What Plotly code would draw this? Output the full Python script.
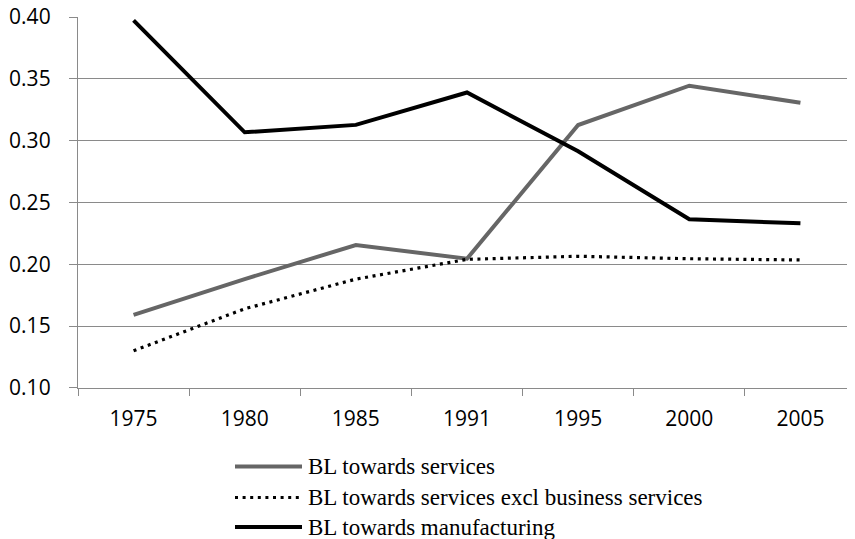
import plotly.graph_objects as go

years = ["1975", "1980", "1985", "1991", "1995", "2000", "2005"]
bl_services = [0.159, 0.188, 0.2156, 0.2045, 0.3127, 0.3445, 0.3307]
bl_services_excl = [0.130, 0.164, 0.188, 0.204, 0.2065, 0.2045, 0.2035]
bl_manufacturing = [0.3973, 0.3068, 0.3128, 0.339, 0.2915, 0.2364, 0.2332]
y_ticks = [0.10, 0.15, 0.20, 0.25, 0.30, 0.35, 0.40]
series_names = ["BL towards services",
                "BL towards services excl business services",
                "BL towards manufacturing"]

# the page body has an 8px margin; layout values below are in figure pixels
OFF = 8
W, H = 855, 539
ML, MT, MR = 70, 9, 7
MB = H - (388 - OFF)
GRAY = "#666666"
GRID = "#8a8a8a"

fig = go.Figure()
fig.add_trace(go.Scatter(x=years, y=bl_services, mode="lines", name=series_names[0],
                         line=dict(color=GRAY, width=4), showlegend=False))
fig.add_trace(go.Scatter(x=years, y=bl_services_excl, mode="lines", name=series_names[1],
                         line=dict(color="black", width=3.2, dash="3px,4.6px"), showlegend=False))
fig.add_trace(go.Scatter(x=years, y=bl_manufacturing, mode="lines", name=series_names[2],
                         line=dict(color="black", width=4), showlegend=False))

fig.update_layout(
    width=W, height=H,
    margin=dict(l=ML, r=MR, t=MT, b=MB, pad=0, autoexpand=False),
    paper_bgcolor="white", plot_bgcolor="white",
    font=dict(family="Open Sans", size=21, color="black"),
)
fig.update_xaxes(type="category", range=[-0.5, 6.5], tickson="boundaries",
                 ticks="outside", ticklen=7, tickcolor=GRID, tickwidth=1.3,
                 showline=True, linecolor=GRID, linewidth=1.3, showgrid=False,
                 automargin=False, ticklabeloverflow="allow",
                 ticklabelstandoff=12, tickfont=dict(family="Open Sans", size=21))
fig.update_yaxes(range=[0.0999, 0.4001], tickvals=y_ticks,
                 ticktext=[f"{v:.2f}" for v in y_ticks],
                 ticks="outside", ticklen=8, tickcolor=GRID, tickwidth=1.3,
                 showline=True, linecolor=GRID, linewidth=1.3,
                 showgrid=True, gridcolor=GRID, gridwidth=1.3, zeroline=False,
                 automargin=False, ticklabeloverflow="allow",
                 ticklabelstandoff=14, tickfont=dict(family="Open Sans", size=21))

# manual legend (page pixel positions converted to paper coordinates)
pw = W - ML - MR
ph = H - MT - MB
def px(x):
    return (x - OFF - ML) / pw
def py(y):
    return (H - MB - (y - OFF)) / ph

legend_rows = [466.5, 497.5, 527]
legend_styles = [dict(color=GRAY, width=4),
                 dict(color="black", width=3.2, dash="3px,4.6px"),
                 dict(color="black", width=4)]
for name, yy, st in zip(series_names, legend_rows, legend_styles):
    fig.add_shape(type="line", xref="paper", yref="paper",
                  x0=px(235), x1=px(302), y0=py(yy), y1=py(yy), line=st)
    fig.add_annotation(xref="paper", yref="paper", x=px(306), y=py(yy),
                       xanchor="left", yanchor="middle", showarrow=False,
                       text=name, font=dict(family="Liberation Serif", size=23, color="black"))

fig.write_html("out.html")
